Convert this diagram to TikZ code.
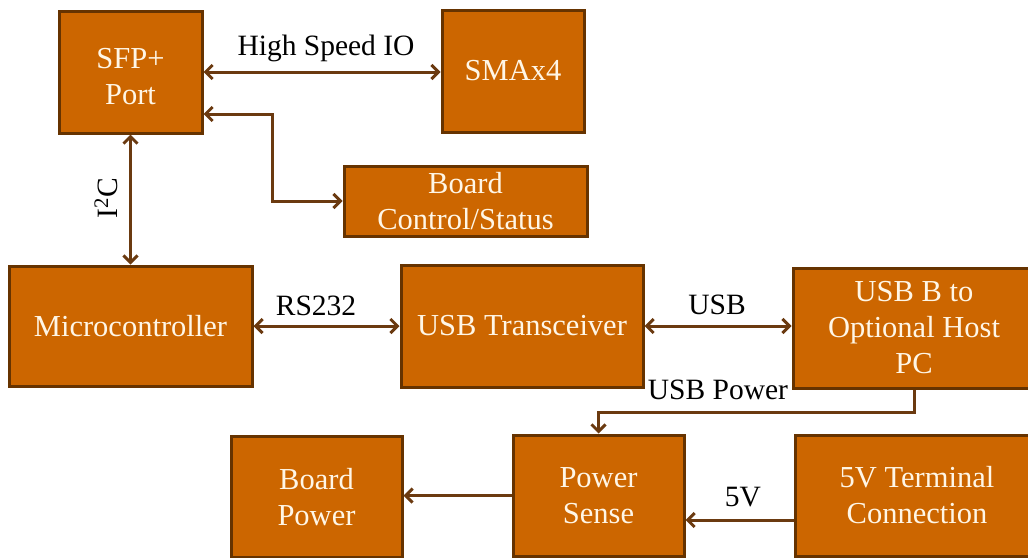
\documentclass[tikz,border=0pt]{standalone}
\usepackage{fontspec}
\setmainfont{Liberation Serif}
\usetikzlibrary{arrows.meta}
\definecolor{boxfill}{HTML}{CC6600}
\definecolor{boxline}{HTML}{663300}
\definecolor{arrcol}{HTML}{6B3A10}
\definecolor{boxtext}{HTML}{FFF6E6}
\tikzset{
  blk/.style={draw=boxline, fill=boxfill, line width=3pt, rectangle, inner sep=0pt,
    text=boxtext, align=center, font=\fontsize{30.5}{36}\selectfont},
  btxt/.style={text=boxtext, align=center, inner sep=0pt, font=\fontsize{30.5}{36}\selectfont},
  conn/.style={draw=arrcol, line width=3pt,
    arrows={Straight Barb[length=7pt,width=14pt]-Straight Barb[length=7pt,width=14pt]}},
  oneway/.style={draw=arrcol, line width=3pt,
    arrows={-Straight Barb[length=7pt,width=14pt]}},
  lbl/.style={text=black, font=\fontsize{29.5}{36}\selectfont, inner sep=0pt}
}
\begin{document}
\begin{tikzpicture}[x=1pt,y=-1pt]
\useasboundingbox (0,0) rectangle (1028,557);
\clip (0,0) rectangle (1028,557);
\node[blk, minimum width=143pt, minimum height=122pt] (sfp) at (130.5,72) {};
\node[btxt] (sfpt) at ([yshift=-4.5pt]sfp.center) {SFP+\\Port};
\node[blk, minimum width=142pt, minimum height=122pt] (sma) at (513,71) {SMAx4};
\node[blk, minimum width=243pt, minimum height=70pt] (bcs) at (465.5,201) {Board\\Control/Status};
\node[blk, minimum width=243pt, minimum height=120pt] (mcu) at (130.5,326) {Microcontroller};
\node[blk, minimum width=242pt, minimum height=122pt] (usbt) at (522,326) {USB Transceiver};
\node[blk, minimum width=242pt, minimum height=120pt] (usbb) at (914,328) {USB B to\\Optional Host\\PC};
\node[blk, minimum width=171pt, minimum height=121pt] (ps) at (598.5,495.5) {Power\\Sense};
\node[blk, minimum width=171pt, minimum height=121pt] (bp) at (316.5,497) {Board\\Power};
\node[blk, minimum width=244pt, minimum height=121pt] (term) at (917,495.5) {5V Terminal\\Connection};

\coordinate (j1) at (272,114);
\coordinate (j2) at (0,412);
\coordinate (j3) at (0,520);

\draw[conn] (sfp.east) -- (sfp.east -| sma.west);
\draw[conn] (j1 -| sfp.east) -- (j1) |- (bcs.west);
\draw[conn] (sfp.south) -- (sfp.south |- mcu.north);
\draw[conn] (mcu.east) -- (mcu.east -| usbt.west);
\draw[conn] (usbt.east) -- (usbt.east -| usbb.west);
\draw[oneway] (usbb.south) -- (usbb.south |- j2) -| (ps.north);
\draw[oneway] (ps.west) -- (ps.west -| bp.east);
\draw[oneway] (term.west |- j3) -- (ps.east |- j3);

\node[lbl] (l1) at (326,48) {High Speed IO};
\node[lbl, rotate=90] (l2) at (106,198) {I\textsuperscript{2}C};
\node[lbl] (l3) at (316,306) {RS232};
\node[lbl] (l4) at (717,305) {USB};
\node[lbl] (l5) at (718,390) {USB Power};
\node[lbl] (l6) at (743,497) {5V};
\end{tikzpicture}
\end{document}
